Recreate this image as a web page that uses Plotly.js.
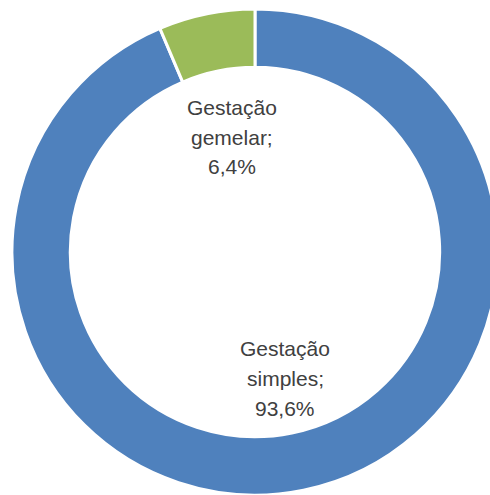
<!DOCTYPE html>
<html>
<head>
<meta charset="utf-8">
<script src="https://cdn.plot.ly/plotly-3.0.1.min.js"></script>
<style>
html,body{margin:0;padding:0;overflow:hidden;background:#fff;}
#chart{width:510px;height:495px;}
</style>
</head>
<body>
<div id="chart"></div>
<script>
var categories = ["Gestação simples", "Gestação gemelar"];
var values = [93.6, 6.4];
var colors = ["#4F81BD", "#9BBB59"];
// label anchor positions (pixels from top-left) for each category
var labelPos = [[285, 378], [232, 137]];

var W = 510, H = 495;
var annotations = [];
categories.forEach(function (c, i) {
  var parts = c.split(" ");
  var lines = [parts[0], parts.slice(1).join(" ") + ";", values[i].toFixed(1).replace(".", ",") + "%"];
  lines.forEach(function (ln, k) {
    annotations.push({
      xref: "paper", yref: "paper",
      x: labelPos[i][0] / W,
      y: 1 - (labelPos[i][1] + (k - 1) * 30) / H,
      text: ln, showarrow: false,
      xanchor: "center", yanchor: "middle",
      font: {family: "Liberation Sans, Arial, sans-serif", size: 21, color: "#404040"}
    });
  });
});

var trace = {
  type: "pie",
  labels: categories,
  values: values,
  hole: 0.76,
  sort: false,
  direction: "clockwise",
  rotation: 0,
  textinfo: "none",
  hoverinfo: "label+percent",
  marker: {colors: colors, line: {color: "#ffffff", width: 3}},
  domain: {x: [0, 1], y: [0, 1 - 9 / H]},
  showlegend: false
};

Plotly.newPlot("chart", [trace], {
  width: W, height: H,
  margin: {l: 0, r: 0, t: 0, b: 0},
  paper_bgcolor: "#ffffff",
  showlegend: false,
  annotations: annotations
}, {displayModeBar: false, staticPlot: true});
</script>
</body>
</html>
